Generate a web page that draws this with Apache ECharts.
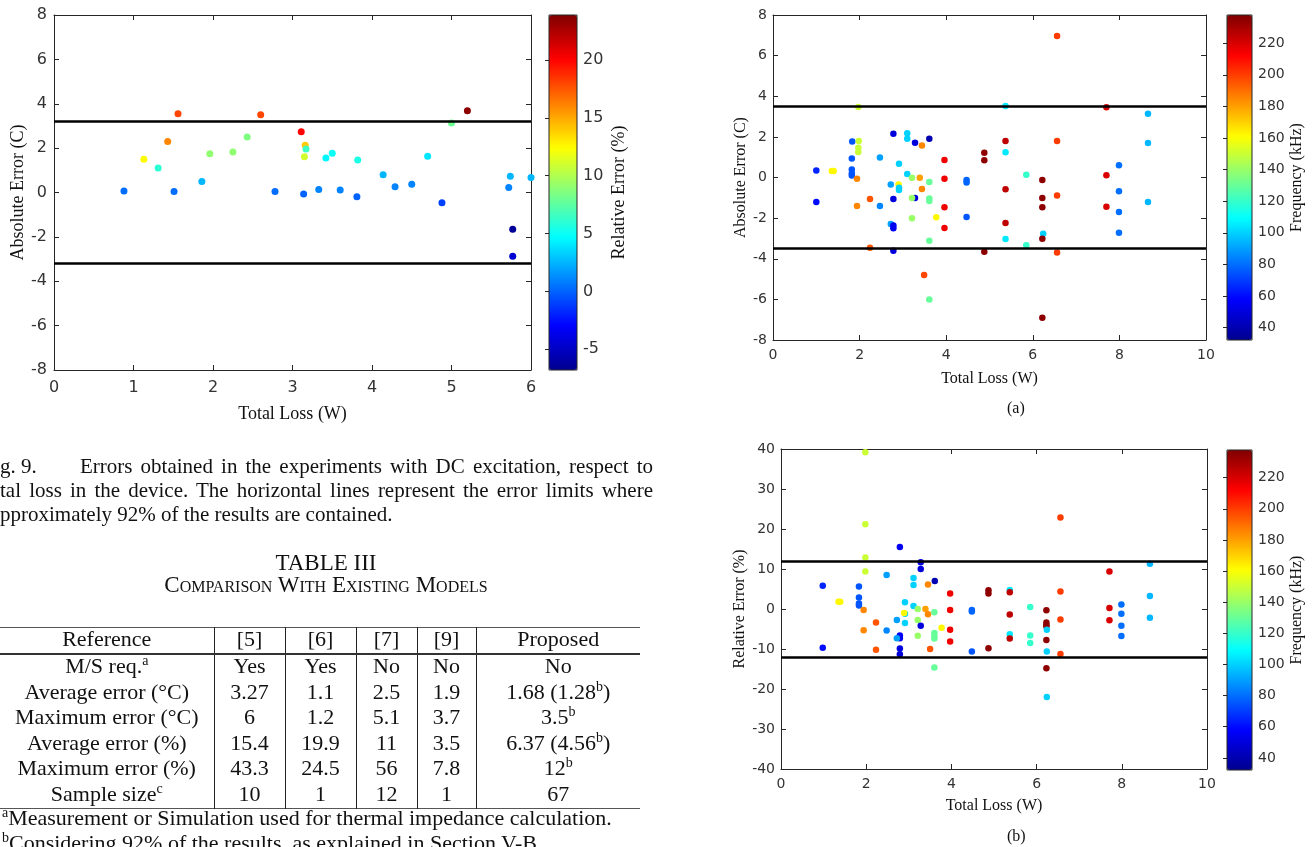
<!DOCTYPE html>
<html>
<head>
<meta charset="utf-8">
<script src="https://cdn.jsdelivr.net/npm/echarts@6/dist/echarts.min.js"></script>
<style>
body { margin: 0; background: #fff; }
#chart { position: absolute; left: 0; top: 0; width: 1316px; height: 847px; }
.txt { position: absolute; font-family: "Liberation Serif", "Times New Roman", serif; color: #111; font-size: 21px; line-height: 24px; white-space: nowrap; }
.just { text-align: justify; text-align-last: justify; white-space: normal; }
.sc { font-variant: small-caps; }
sup { font-size: 14px; line-height: 0; vertical-align: 8px; }
table { position: absolute; left: 0; top: 627px; width: 640px; border-collapse: collapse; font-family: "Liberation Serif", "Times New Roman", serif; font-size: 22px; color: #111; }
td { padding: 0 0 3px 0; text-align: center; height: 22.5px; line-height: 22px; border-left: 1px solid #222; }
td:first-child { border-left: none; }
tr.head td { height: 21px; border-bottom: 2px solid #333; }
table { border-top: 1px solid #555; border-bottom: 1px solid #555; }
</style>
</head>
<body>
<div id="chart"></div>

<div class="txt" style="left:0;top:454px;">g. 9.</div>
<div class="txt just" style="left:80px;top:454px;width:573px;">Errors obtained in the experiments with DC excitation, respect to</div>
<div class="txt just" style="left:0;top:478px;width:653px;">tal loss in the device. The horizontal lines represent the error limits where</div>
<div class="txt" style="left:0;top:502px;">pproximately 92% of the results are contained.</div>

<div class="txt" style="left:0;top:551px;width:652px;text-align:center;font-size:23px;">TABLE III</div>
<div class="txt sc" style="left:0;top:573px;width:652px;text-align:center;font-size:23px;">Comparison With Existing Models</div>

<table>
<colgroup><col style="width:214px"><col style="width:71px"><col style="width:71px"><col style="width:61px"><col style="width:59px"><col style="width:164px"></colgroup>
<tr class="head"><td>Reference</td><td>[5]</td><td>[6]</td><td>[7]</td><td>[9]</td><td>Proposed</td></tr>
<tr><td>M/S req.<sup>a</sup></td><td>Yes</td><td>Yes</td><td>No</td><td>No</td><td>No</td></tr>
<tr><td>Average error (°C)</td><td>3.27</td><td>1.1</td><td>2.5</td><td>1.9</td><td>1.68 (1.28<sup>b</sup>)</td></tr>
<tr><td>Maximum error (°C)</td><td>6</td><td>1.2</td><td>5.1</td><td>3.7</td><td>3.5<sup>b</sup></td></tr>
<tr><td>Average error (%)</td><td>15.4</td><td>19.9</td><td>11</td><td>3.5</td><td>6.37 (4.56<sup>b</sup>)</td></tr>
<tr><td>Maximum error (%)</td><td>43.3</td><td>24.5</td><td>56</td><td>7.8</td><td>12<sup>b</sup></td></tr>
<tr><td>Sample size<sup>c</sup></td><td>10</td><td>1</td><td>12</td><td>1</td><td>67</td></tr>
</table>

<div class="txt" style="left:2px;top:806px;font-size:22px;"><sup>a</sup>Measurement or Simulation used for thermal impedance calculation.</div>
<div class="txt" style="left:2px;top:831px;font-size:22px;"><sup>b</sup>Considering 92% of the results, as explained in Section V-B.</div>

<div class="txt" style="left:1007px;top:396px;font-size:16px;">(a)</div>
<div class="txt" style="left:1007px;top:824px;font-size:16px;">(b)</div>

<script>
// Fig. 9 : DC excitation
var dcLoss   = [0.88, 1.13, 1.31, 1.43, 1.56, 1.51, 1.86, 1.96, 2.25, 2.43, 2.60, 2.78,
                3.11, 3.16, 3.17, 3.15, 3.14, 3.33, 3.42, 3.50, 3.60, 3.82, 3.81, 4.14,
                4.29, 4.50, 4.70, 4.88, 5.00, 5.20, 5.74, 5.72, 6.00, 5.77, 5.77];
var dcAbsErr = [0.07, 1.50, 1.10, 2.30, 3.55, 0.05, 0.50, 1.75, 1.83, 2.50, 3.50, 0.05,
                2.74, 2.13, 1.96, 1.61, -0.07, 0.14, 1.55, 1.77, 0.11, 1.46, -0.19, 0.80,
                0.26, 0.37, 1.63, -0.46, 3.13, 3.68, 0.73, 0.23, 0.68, -1.66, -2.87];
var dcRelErr = [0.3, 12.5, 6, 16, 18, 0.3, 2.5, 9, 9, 8.5, 18, 0.3,
                20, 14, 6.5, 11, 0, 1, 4.5, 5, 1, 5.5, 0, 2.5,
                1, 1, 4, -1, 8, 23.5, 2.5, 1, 2.5, -6.5, -4.5];
var dcLimit = 3.2;
var relErrRange = [-6.8, 23.9];
var relErrTicks = [-5, 0, 5, 10, 15, 20];

// (a) absolute error vs loss, coloured by frequency
var lossA = [2.78, 3.10, 3.10, 3.28, 3.61, 3.44, 1.83, 1.98, 1.97, 1.97, 1.82, 2.47, 2.91, 3.96, 4.88, 4.88,
             1.00, 1.36, 1.40, 1.82, 1.82, 1.82, 1.94, 3.10, 3.21, 3.39, 3.61, 3.96, 4.47, 4.47,
             2.72, 2.90, 2.91, 2.91, 3.44, 2.78, 3.28, 3.21, 3.61, 3.61, 1.00, 2.24, 1.94, 2.47,
             3.96, 3.77, 3.21, 4.47, 2.72, 2.78, 2.78, 3.96, 3.61, 2.24, 2.78, 4.88, 3.49, 3.61, 1.97,
             6.56, 5.37, 7.70, 8.66, 5.37, 6.56, 8.66, 5.37, 7.99, 5.85, 6.22, 7.70, 5.37, 6.56,
             6.22, 6.22, 7.99, 8.66, 7.70, 7.99, 5.37, 7.99, 6.24, 6.22, 5.37, 5.85, 6.56, 6.22];
var absErrA = [2.16, 2.18, 1.91, 1.71, 1.91, 1.58, 1.77, 1.80, 1.47, 1.26, 0.94, 0.99, 0.68, 0.86, 1.22, 0.85,
               0.35, 0.32, 0.32, 0.40, 0.20, 0.10, -0.06, 0.17, -0.01, -0.01, -0.22, -0.06, -0.12, -0.24,
               -0.35, -0.34, -0.50, -0.62, -0.57, -1.06, -1.01, -1.01, -1.03, -1.16, -1.21, -1.06, -1.40, -1.40,
               -1.47, -1.96, -2.00, -1.95, -2.29, -2.36, -2.50, -2.49, -3.11, -3.46, -3.60, -3.65, -4.80, -6.00, 3.47,
               6.97, 3.52, 3.46, 3.14, 1.80, 1.80, 1.70, 1.24, 0.60, 0.14, -0.12, 0.11, -0.58, -0.88,
               -1.01, -1.47, -0.68, -1.21, -1.44, -1.70, -2.24, -2.72, -2.77, -3.01, -3.03, -3.34, -3.69, -6.90];
var freqA = [50, 100, 100, 50, 40, 185, 75, 150, 150, 150, 75, 90, 100, 215, 235, 235,
             65, 162, 162, 75, 75, 75, 185, 100, 140, 180, 130, 215, 78, 78,
             90, 162, 100, 100, 185, 50, 50, 140, 130, 130, 60, 195, 185, 85,
             215, 162, 140, 75, 90, 55, 55, 215, 130, 195, 50, 235, 198, 130, 150,
             200, 105, 220, 95, 225, 200, 95, 105, 80, 120, 235, 220, 225, 200,
             235, 235, 80, 95, 220, 80, 225, 80, 100, 235, 105, 120, 200, 235];
var limitA = 3.5;

// (b) relative error vs loss, coloured by frequency
var lossB = [1.98, 1.98, 2.79, 1.98, 1.98, 3.28, 3.28, 3.61, 2.48, 3.11, 3.11, 3.45, 3.97, 0.98,
             1.83, 1.83, 1.83, 1.83, 1.35, 1.39, 1.94, 2.91, 3.11, 3.21, 3.39, 3.45, 3.60, 3.97,
             4.48, 4.48, 2.91, 2.89, 2.72, 3.21, 2.91, 3.28, 3.77, 3.97, 2.23, 1.94, 2.48, 3.60,
             3.60, 3.60, 3.21, 2.79, 2.79, 2.72, 3.97, 0.98, 2.23, 2.79, 2.79, 3.50, 4.48, 3.60,
             4.87, 4.87, 4.87, 6.56, 8.66, 7.71, 5.37, 5.37, 6.56, 8.66, 5.85, 6.23, 7.71, 7.99,
             7.99, 5.37, 6.56, 6.23, 6.23, 6.23, 6.24, 7.71, 7.99, 8.66, 5.37, 5.37, 5.85, 5.85,
             6.23, 7.99, 6.24, 6.56, 6.23, 6.24];
var relErrB = [39.2, 21.2, 15.5, 12.9, 9.4, 11.7, 10.0, 7.0, 8.5, 7.75, 6.0, 6.1, 3.9, 5.8,
               5.6, 2.9, 1.4, 0.9, 1.8, 1.8, -0.25, 1.7, 0.75, 0.0, 0.0, -1.3, -0.8, -0.25,
               -0.25, -0.6, -1.2, -1.0, -2.75, -2.75, -3.5, -4.2, -4.7, -5.2, -3.4, -5.3, -5.4, -6.0,
               -6.8, -7.4, -6.7, -6.6, -7.3, -7.3, -8.1, -9.7, -10.2, -9.9, -11.3, -10.0, -10.6, -14.6,
               4.7, 3.9, -9.8, 22.9, 11.3, 9.4, 4.75, 4.2, 4.4, 3.25, 0.5, -0.3, 0.25, 1.1,
               -1.2, -1.4, -2.6, -3.4, -4.0, -4.3, -5.2, -2.8, -4.2, -2.2, -6.3, -7.4, -6.6, -8.5,
               -7.75, -6.75, -10.6, -11.25, -14.8, -22.0];
var freqB = [150, 150, 55, 150, 150, 50, 50, 40, 90, 100, 100, 185, 215, 65,
             75, 75, 75, 75, 162, 162, 185, 100, 100, 140, 180, 185, 130, 215,
             78, 78, 100, 162, 90, 140, 100, 50, 162, 215, 195, 185, 85, 130,
             130, 130, 140, 55, 55, 90, 215, 60, 195, 50, 50, 195, 75, 130,
             235, 235, 235, 200, 95, 220, 105, 225, 200, 95, 120, 235, 220, 80,
             80, 225, 200, 235, 235, 235, 100, 220, 80, 95, 105, 225, 120, 120,
             235, 80, 100, 200, 235, 100];
var limitB = 12;

var freqRange = [32.2, 237.8];
var freqTicks = [40, 60, 80, 100, 120, 140, 160, 180, 200, 220];

var jet = ['#00008f', '#0000ff', '#0080ff', '#00ffff', '#80ff80', '#ffff00', '#ff8000', '#ff0000', '#800000'];

function zip(xs, ys, cs) {
    var out = [];
    for (var i = 0; i < xs.length; i++) out.push([xs[i], ys[i], cs[i]]);
    return out;
}

var mychart = echarts.init(document.getElementById('chart'));

var axisColor = '#262626';
var grids = [], xAxes = [], yAxes = [], series = [], visualMaps = [];

// one scatter panel with box ticks all round
function addPanel(g, xr, yr, fs, nfs, names, gaps, data, limit, size, cmap) {
    var gi = grids.length;
    grids.push({ left: g[0], top: g[1], width: g[2], height: g[3] });
    var tick = { show: true, inside: true, length: 5, lineStyle: { color: axisColor } };
    var line = { show: true, onZero: false, lineStyle: { color: axisColor, width: 1 } };
    var lab = { color: '#333', fontFamily: 'DejaVu Sans', fontSize: fs };
    var nameStyle = { fontFamily: 'Liberation Serif', fontSize: nfs, color: '#111' };
    var xi = xAxes.length, yi = yAxes.length;
    xAxes.push({ gridIndex: gi, type: 'value', min: xr[0], max: xr[1], interval: xr[2], position: 'bottom',
        axisLine: line, axisTick: tick, splitLine: { show: false },
        axisLabel: Object.assign({ margin: gaps[2] }, lab),
        name: names[0], nameLocation: 'middle', nameGap: gaps[0], nameTextStyle: nameStyle });
    xAxes.push({ gridIndex: gi, type: 'value', min: xr[0], max: xr[1], interval: xr[2], position: 'top',
        axisLine: line, axisTick: tick, splitLine: { show: false }, axisLabel: { show: false } });
    yAxes.push({ gridIndex: gi, type: 'value', min: yr[0], max: yr[1], interval: yr[2], position: 'left',
        axisLine: line, axisTick: tick, splitLine: { show: false },
        axisLabel: Object.assign({ margin: gaps[3] }, lab),
        name: names[1], nameLocation: 'middle', nameGap: gaps[1], nameTextStyle: nameStyle });
    yAxes.push({ gridIndex: gi, type: 'value', min: yr[0], max: yr[1], interval: yr[2], position: 'right',
        axisLine: line, axisTick: tick, splitLine: { show: false }, axisLabel: { show: false } });
    var si = series.length;
    series.push({
        type: 'scatter', xAxisIndex: xi, yAxisIndex: yi, data: data,
        symbolSize: size, itemStyle: { opacity: 1 }, silent: true,
        markLine: {
            silent: true, symbol: ['none', 'none'], label: { show: false },
            lineStyle: { color: '#000', width: 2.5, type: 'solid' },
            data: [{ yAxis: limit }, { yAxis: -limit }]
        }
    });

    // colour bar: visualMap gives the gradient, a thin grid gives ticks and box
    var cb = cmap.box;
    visualMaps.push({
        type: 'continuous', seriesIndex: si, dimension: 2,
        min: cmap.range[0], max: cmap.range[1], inRange: { color: jet },
        calculable: false, hoverLink: false, padding: 0,
        left: cb[0], top: cb[1], itemWidth: cb[2], itemHeight: cb[3]
    });
    var ci = grids.length;
    grids.push({ left: cb[0], top: cb[1], width: cb[2], height: cb[3], show: true,
        borderColor: axisColor, borderWidth: 1, backgroundColor: 'transparent', z: 6 });
    xAxes.push({ gridIndex: ci, type: 'value', min: 0, max: 1, show: false });
    yAxes.push({ gridIndex: ci, type: 'value', min: cmap.range[0], max: cmap.range[1], position: 'right', z: 6,
        axisLine: { show: false }, splitLine: { show: false },
        axisTick: { show: true, inside: true, length: 4, lineStyle: { color: axisColor }, customValues: cmap.ticks },
        axisLabel: Object.assign({ margin: 6, customValues: cmap.ticks }, lab),
        name: cmap.name, nameLocation: 'middle', nameGap: cmap.gap, nameRotate: 90, nameTextStyle: nameStyle });
}

addPanel([54, 15, 477, 355], [0, 6, 1], [-8, 8, 2], 16, 18,
    ['Total Loss (W)', 'Absolute Error (C)'], [35, 27, 10, 7],
    zip(dcLoss, dcAbsErr, dcRelErr), dcLimit, 7,
    { box: [549, 15, 28, 355], range: relErrRange, ticks: relErrTicks, name: 'Relative Error (%)', gap: 33 });

addPanel([773, 15, 433, 325], [0, 10, 2], [-8, 8, 2], 14, 16,
    ['Total Loss (W)', 'Absolute Error (C)'], [31, 24, 8, 6],
    zip(lossA, absErrA, freqA), limitA, 6.5,
    { box: [1227, 15, 25, 325], range: freqRange, ticks: freqTicks, name: 'Frequency (kHz)', gap: 37 });

addPanel([781, 449, 426, 320], [0, 10, 2], [-40, 40, 10], 14, 16,
    ['Total Loss (W)', 'Relative Error (%)'], [29, 32, 8, 6],
    zip(lossB, relErrB, freqB), limitB, 6.5,
    { box: [1227, 450, 25, 320], range: freqRange, ticks: freqTicks, name: 'Frequency (kHz)', gap: 37 });

var option = {
    animation: false,
    backgroundColor: '#fff',
    grid: grids,
    xAxis: xAxes,
    yAxis: yAxes,
    visualMap: visualMaps,
    series: series
};

mychart.setOption(option);
</script>
</body>
</html>
